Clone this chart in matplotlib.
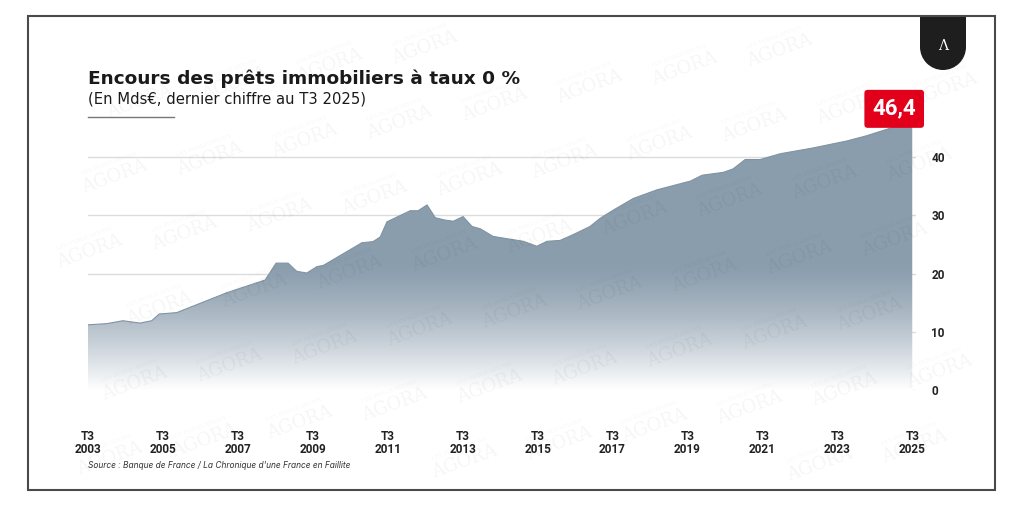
import numpy as np
import matplotlib
matplotlib.use('Agg')
import matplotlib.pyplot as plt
from matplotlib.patches import Rectangle, Circle, PathPatch
from matplotlib.path import Path
from matplotlib.transforms import IdentityTransform

# Points (decimal year, Mds EUR)
periods = [2003.50, 2004.00, 2004.43, 2004.89, 2005.20, 2005.40, 2005.87, 2007.20,
           2008.23, 2008.52, 2008.84, 2009.07, 2009.34, 2009.61, 2009.78, 2010.81,
           2011.11, 2011.30, 2011.48, 2012.10, 2012.31, 2012.55, 2012.77, 2013.03,
           2013.25, 2013.51, 2013.75, 2013.97, 2014.31, 2014.68, 2015.12, 2015.48,
           2015.75, 2016.10, 2016.45, 2016.90, 2017.17, 2017.52, 2018.05, 2018.69,
           2019.58, 2019.89, 2020.46, 2020.72, 2021.04, 2021.44, 2021.98, 2022.86,
           2023.76, 2024.29, 2024.92, 2025.50]
encours = [11.2, 11.4, 11.9, 11.5, 11.9, 13.05, 13.3, 16.7,
           18.9, 21.8, 21.8, 20.4, 20.1, 21.2, 21.4, 25.3,
           25.5, 26.3, 28.9, 30.8, 30.8, 31.8, 29.6, 29.2,
           29.0, 29.8, 28.1, 27.7, 26.4, 26.0, 25.55, 24.7,
           25.55, 25.7, 26.7, 28.1, 29.5, 30.9, 32.9, 34.4,
           35.9, 36.9, 37.4, 38.0, 39.6, 39.6, 40.6, 41.6,
           42.8, 43.7, 45.0, 46.4]
tick_years = list(range(2003, 2026, 2))
y_ticks = [0, 10, 20, 30, 40]
last_label = '46,4'

W, H = 1024, 507
fig = plt.figure(figsize=(W / 100, H / 100), dpi=100)
fig.patch.set_facecolor('white')

def px(x, y):
    return x / W, 1 - y / H

# faint watermark pattern, kept inside the frame
for i in range(-8, 18):
    for j in range(-8, 14):
        wx = 70 + i * 95 - j * 25
        wy = 45 + j * 75 - i * 18
        if 70 < wx < 955 and 35 < wy < 470:
            fig.text(*px(wx, wy), 'AGORA', fontsize=13, family='DejaVu Serif',
                     color='#000000', alpha=0.04, rotation=20,
                     ha='center', va='center', zorder=0)
            fig.text(*px(wx - 6, wy - 13), 'LES PUBLICATIONS', fontsize=4,
                     family='DejaVu Serif', color='#000000', alpha=0.04,
                     rotation=20, ha='center', va='center', zorder=0)

ax = fig.add_axes([88 / W, 117 / H, 828 / W, 291 / H])
ax.set_facecolor('none')
x0, x1 = 2003.5, 2025.6
ymax = 50
ax.set_xlim(x0, x1)
ax.set_ylim(0, ymax)

# grid
for v in y_ticks:
    ax.axhline(v, color='#dcdcdc', lw=1, zorder=1)

# gradient area
vals = np.linspace(0, ymax, 300)
f = np.where(vals < 22, 1 - np.clip(1 - vals / 22, 0, 1) ** 1.4, 1.0)
top = np.array([138, 157, 173]) / 255
cols = 1 - f[:, None] * (1 - top[None, :])
img = np.repeat(cols[:, None, :], 2, axis=1)
im = ax.imshow(img, extent=[x0, x1, 0, ymax], origin='lower', aspect='auto',
               zorder=2, interpolation='bilinear')
verts = [(periods[0], 0)] + list(zip(periods, encours)) + [(periods[-1], 0), (periods[0], 0)]
clip = PathPatch(Path(verts, closed=True), facecolor='none', edgecolor='none')
ax.add_patch(clip)
im.set_clip_path(clip)
ax.plot(periods, encours, color='#8193a2', lw=0.8, zorder=3)

# axes styling
for s in ax.spines.values():
    s.set_visible(False)
ax.yaxis.tick_right()
ax.set_yticks(y_ticks)
ax.set_yticklabels([str(v) for v in y_ticks], fontsize=8.5, fontweight='bold',
                   family='Roboto', color='#222222')
ax.tick_params(axis='y', length=0, pad=11)
ax.set_xticks([y + 0.5 for y in tick_years])
ax.set_xticklabels(['T3\n%d' % y for y in tick_years], fontsize=8.5,
                   fontweight='bold', family='Roboto', color='#222222',
                   linespacing=1.0)
ax.tick_params(axis='x', length=0, pad=29)

# last value label
ax.annotate(last_label, xy=(periods[-1], encours[-1]), xytext=(-13, 8),
            textcoords='offset points', ha='center', va='center',
            fontsize=16, fontweight='bold', family='Roboto', color='white',
            bbox=dict(boxstyle='round,pad=0.36,rounding_size=0.15',
                      fc='#e2001a', ec='none'), zorder=5)

# titles
fig.text(*px(88, 84), 'Encours des prêts immobiliers à taux 0 %', fontsize=13.3,
         fontweight='bold', family='DejaVu Sans', color='#1a1a1a', va='baseline')
fig.text(*px(88, 104), '(En Mds€, dernier chiffre au T3 2025)', fontsize=10.6,
         family='DejaVu Sans', color='#1a1a1a', va='baseline')
fig.add_artist(plt.Line2D([88 / W, 174 / W], [1 - 117 / H] * 2, color='#777777', lw=1))
fig.text(*px(88, 466), "Source : Banque de France / La Chronique d'une France en Faillite",
         fontsize=6, style='italic', family='Inter', color='#333333', va='center')

# logo tab
tr = IdentityTransform()
fig.add_artist(Rectangle((920, H - 47), 46, 31, transform=tr, fc='#1e1e1e', ec='none'))
fig.add_artist(Circle((943, H - 47), 23, transform=tr, fc='#1e1e1e', ec='none'))
fig.text(*px(943, 46), 'Λ', fontsize=10, color='white', ha='center', va='center',
         family='DejaVu Serif')

# frame
fig.add_artist(Rectangle((28, H - 490), 967, 474, transform=tr, fill=False,
                         ec='#4a4a4a', lw=1.5))

fig.savefig('out.png', dpi=100)
